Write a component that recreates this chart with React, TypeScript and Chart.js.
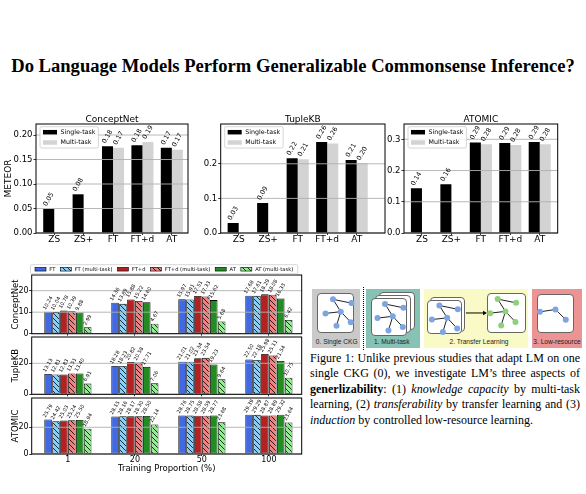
import React, { useEffect, useRef } from 'react';
import { Chart, registerables } from 'chart.js';

Chart.register(...registerables);

// ---------------- data ----------------
const TOP_CATEGORIES = ['ZS', 'ZS+', 'FT', 'FT+d', 'AT'];
const TOP_SERIES = ['Single-task', 'Multi-task'];
const CONCEPTNET_SINGLE = [0.049, 0.079, 0.177, 0.179, 0.174];
const CONCEPTNET_MULTI = [null, null, 0.174, 0.186, 0.17];
const TUPLEKB_SINGLE = [0.029, 0.087, 0.216, 0.263, 0.211];
const TUPLEKB_MULTI = [null, null, 0.213, 0.259, 0.202];
const ATOMIC_SINGLE = [0.143, 0.156, 0.29, 0.288, 0.291];
const ATOMIC_MULTI = [null, null, 0.284, 0.282, 0.284];

const PROPORTIONS = ['1', '20', '50', '100'];
const METHOD_LABELS = ['FT', 'FT (multi-task)', 'FT+d', 'FT+d (multi-task)', 'AT', 'AT (multi-task)'];

const CN_FT = [10.24, 14.36, 15.97, 17.68];
const CN_FT_MT = [10.04, 13.89, 15.91, 17.61];
const CN_FTD = [10.78, 15.88, 17.51, 18.29];
const CN_FTD_MT = [10.39, 15.22, 17.33, 18.08];
const CN_AT = [9.88, 14.6, 15.62, 16.33];
const CN_AT_MT = [2.99, 4.67, 5.68, 6.42];

const TK_FT = [13.13, 18.28, 21.01, 22.5];
const TK_FT_MT = [12.81, 18.23, 21.02, 22.18];
const TK_FTD = [12.83, 20.82, 23.34, 25.98];
const TK_FTD_MT = [13.51, 20.58, 23.54, 25.11];
const TK_AT = [13.4, 17.71, 19.23, 21.54];
const TK_AT_MT = [6.91, 7.06, 9.64, 10.75];

const AT_FT = [25.79, 28.15, 28.76, 29.39];
const AT_FT_MT = [24.42, 28.16, 28.75, 29.29];
const AT_FTD = [25.03, 28.17, 28.58, 28.87];
const AT_FTD_MT = [25.24, 28.3, 28.59, 28.89];
const AT_AT = [25.5, 28.5, 28.77, 29.32];
const AT_AT_MT = [18.94, 22.14, 23.68, 23.64];

// diagram (graph glyphs)
const PANEL_LABELS = ['0. Single CKG', '1. Multi-task', '2. Transfer Learning', '3. Low-resource'];
const GRAPH_NODES = [[12.7, 4], [31.7, 8.3], [5, 20], [20.7, 18], [31, 30], [16.3, 34]];
const GRAPH_EDGES = [[0, 1], [0, 3], [2, 3], [3, 4], [3, 5]];
const SPARSE_NODES = [[5.7, 17.7], [21.7, 15], [32.3, 26.7]];
const SPARSE_EDGES = [[0, 1], [1, 2]];
const BLUE_GRAPH_CARDS = [[317, 293], [370.5, 298.3], [426.5, 300]];
const GREEN_GRAPH_CARDS = [[486.5, 292.7]];
const SPARSE_GRAPH_CARDS = [[537, 293.5]];
const ARROW = [[466.5, 312.5], [485.5, 312.5]];

// ---------------- styles / layout ----------------
const FONT = 'DejaVu Sans';
const TOP_CANVAS_TOP = 104;
const TOP_H = 144;
const TOP_PLOT_T = 20;
const TOP_PLOT_B = 129;
const TOP_PANELS = [
  { title: 'ConceptNet', ylabel: 'METEOR', single: CONCEPTNET_SINGLE, multi: CONCEPTNET_MULTI, yMax: 0.2225, yStep: 0.05, dec: 2, left: 0, width: 196, plotL: 36, plotR: 188, padL: 0.62, padR: 0.55 },
  { title: 'TupleKB', ylabel: '', single: TUPLEKB_SINGLE, multi: TUPLEKB_MULTI, yMax: 0.315, yStep: 0.1, dec: 1, left: 196, width: 196, plotL: 24.7, plotR: 189, padL: 0.61, padR: 0.96 },
  { title: 'ATOMIC', ylabel: '', single: ATOMIC_SINGLE, multi: ATOMIC_MULTI, yMax: 0.349, yStep: 0.1, dec: 1, left: 380, width: 206, plotL: 24, plotR: 177.7, padL: 0.61, padR: 0.61 },
];
const TOP_COLORS = ['#000000', '#d3d3d3'];

const METHOD_COLORS = ['#4169e1', '#87cefa', '#b22222', '#f08080', '#228b22', '#90ee90'];
const METHOD_HATCHED = [false, true, false, true, false, true];
const ROW_PANELS = [
  { ylabel: 'ConceptNet', series: [CN_FT, CN_FT_MT, CN_FTD, CN_FTD_MT, CN_AT, CN_AT_MT], yMax: 27.3, yStep: 10, top: 255, height: 82, plotT: 20, plotB: 78.7, legend: true, xlabels: false },
  { ylabel: 'TupleKB', series: [TK_FT, TK_FT_MT, TK_FTD, TK_FTD_MT, TK_AT, TK_AT_MT], yMax: 37, yStep: 20, top: 318, height: 80, plotT: 19, plotB: 76.3, legend: false, xlabels: false },
  { ylabel: 'ATOMIC', series: [AT_FT, AT_FT_MT, AT_FTD, AT_FTD_MT, AT_AT, AT_AT_MT], yMax: 41.9, yStep: 20, top: 380, height: 100, plotT: 18, plotB: 74, legend: false, xlabels: true },
];
const ROW_W = 310;
const ROW_PLOT_L = 31.7;
const ROW_PLOT_R = 301.7;

function hatchPattern(color: string) {
  const c = document.createElement('canvas');
  const s = 5;
  c.width = s;
  c.height = s;
  const g = c.getContext('2d')!;
  g.fillStyle = color;
  g.fillRect(0, 0, s, s);
  g.strokeStyle = '#000';
  g.lineWidth = 0.8;
  g.beginPath();
  g.moveTo(-1, -1); g.lineTo(s + 1, s + 1);
  g.moveTo(-1, s - 1); g.lineTo(1, s + 1);
  g.moveTo(s - 1, -1); g.lineTo(s + 1, 1);
  g.stroke();
  return g.createPattern(c, 'repeat');
}

function filterSteps(step: number) {
  return (s: any) => {
    s.ticks = s.ticks.filter((t: any) => Math.abs(t.value / step - Math.round(t.value / step)) < 1e-6);
  };
}

function drawRotatedLabels(ctx: any, chart: any, fontSize: number, pad: number, dec: number) {
  const th = (60 * Math.PI) / 180;
  ctx.font = `${fontSize}px "${FONT}"`;
  ctx.fillStyle = '#000';
  chart.data.datasets.forEach((ds: any, di: number) => {
    const meta = chart.getDatasetMeta(di);
    meta.data.forEach((el: any, i: number) => {
      const raw = ds.data[i];
      const v = raw && typeof raw === 'object' ? raw.y : raw;
      if (v == null) return;
      const txt = Number(v).toFixed(dec);
      const w = ctx.measureText(txt).width;
      const h = fontSize * 1.1;
      const bh = w * Math.sin(th) + h * Math.cos(th);
      ctx.save();
      ctx.translate(el.x, el.y - pad - bh / 2);
      ctx.rotate(-th);
      ctx.textAlign = 'center';
      ctx.textBaseline = 'middle';
      ctx.fillText(txt, 0, 0);
      ctx.restore();
    });
  });
}

function roundRect(ctx: any, x: number, y: number, w: number, h: number, r: number) {
  ctx.beginPath();
  ctx.moveTo(x + r, y);
  ctx.lineTo(x + w - r, y);
  ctx.quadraticCurveTo(x + w, y, x + w, y + r);
  ctx.lineTo(x + w, y + h - r);
  ctx.quadraticCurveTo(x + w, y + h, x + w - r, y + h);
  ctx.lineTo(x + r, y + h);
  ctx.quadraticCurveTo(x, y + h, x, y + h - r);
  ctx.lineTo(x, y + r);
  ctx.quadraticCurveTo(x, y, x + r, y);
  ctx.closePath();
}

function gridAndFrame(ctx: any, chart: any) {
  const a = chart.chartArea;
  const ys = chart.scales.y;
  ctx.strokeStyle = '#b0b0b0';
  ctx.lineWidth = 0.9;
  ys.ticks.forEach((t: any) => {
    const y = ys.getPixelForValue(t.value);
    ctx.beginPath();
    ctx.moveTo(a.left, y);
    ctx.lineTo(a.right, y);
    ctx.stroke();
  });
  ctx.strokeStyle = '#000';
  ctx.lineWidth = 1;
  ctx.strokeRect(a.left, a.top, a.right - a.left, a.bottom - a.top);
}

function makeTopConfig(p: any) {
  const overlay = {
    id: 'topOverlay',
    afterDatasetsDraw(chart: any) {
      const ctx = chart.ctx;
      const a = chart.chartArea;
      ctx.save();
      gridAndFrame(ctx, chart);
      drawRotatedLabels(ctx, chart, 6.5, 1.5, 2);
      // title
      ctx.font = `9px "${FONT}"`;
      ctx.fillStyle = '#000';
      ctx.textAlign = 'center';
      ctx.textBaseline = 'alphabetic';
      ctx.fillText(p.title, (a.left + a.right) / 2, a.top - 2.5);
      if (p.ylabel) {
        ctx.save();
        ctx.translate(8.5, (a.top + a.bottom) / 2);
        ctx.rotate(-Math.PI / 2);
        ctx.textBaseline = 'middle';
        ctx.fillText(p.ylabel, 0, 0);
        ctx.restore();
      }
      // legend
      const fs = 6.3;
      ctx.font = `${fs}px "${FONT}"`;
      const tw = Math.max(...TOP_SERIES.map((s) => ctx.measureText(s).width));
      const x0 = a.left + 4;
      const y0 = a.top + 2.7;
      const hw = 14, hh = 4.5, gap = 3.5, pad = 3, rowH = 10.3;
      const w = pad + hw + gap + tw + pad;
      const h = 5.5 * 2 + rowH;
      roundRect(ctx, x0, y0, w, h, 1.5);
      ctx.fillStyle = 'rgba(255,255,255,0.85)';
      ctx.fill();
      ctx.strokeStyle = '#cccccc';
      ctx.lineWidth = 0.8;
      ctx.stroke();
      TOP_SERIES.forEach((s, i) => {
        const cy = y0 + 5.5 + i * rowH;
        ctx.fillStyle = TOP_COLORS[i];
        ctx.fillRect(x0 + pad, cy - hh / 2, hw, hh);
        ctx.fillStyle = '#000';
        ctx.textAlign = 'left';
        ctx.textBaseline = 'middle';
        ctx.fillText(s, x0 + pad + hw + gap, cy);
      });
      ctx.restore();
    },
  };
  return {
    type: 'bar',
    data: {
      datasets: [
        { label: TOP_SERIES[0], data: p.single.map((y: any, i: number) => ({ x: i, y })), backgroundColor: TOP_COLORS[0], borderWidth: 0 },
        { label: TOP_SERIES[1], data: p.multi.map((y: any, i: number) => ({ x: i, y })), backgroundColor: TOP_COLORS[1], borderWidth: 0 },
      ],
    },
    options: {
      responsive: false,
      animation: false,
      events: [],
      layout: { padding: { left: 0, top: TOP_PLOT_T, right: p.width - p.plotR, bottom: 0 } },
      datasets: { bar: { categoryPercentage: 0.75, barPercentage: 1 } },
      plugins: { legend: { display: false }, tooltip: { enabled: false } },
      scales: {
        x: {
          type: 'linear',
          min: -p.padL,
          max: TOP_CATEGORIES.length - 1 + p.padR,
          offset: false,
          border: { display: false },
          grid: { offset: false, drawOnChartArea: false, drawTicks: true, tickLength: 2, tickColor: '#000', tickWidth: 0.8 },
          ticks: {
            autoSkip: false, maxRotation: 0, minRotation: 0, padding: -0.8, color: '#000',
            font: { family: FONT, size: 9 },
            callback: (v: any) => TOP_CATEGORIES[v] ?? '',
          },
          afterBuildTicks: (s: any) => { s.ticks = TOP_CATEGORIES.map((_, i) => ({ value: i })); },
          afterFit: (s: any) => { s.height = TOP_H - TOP_PLOT_B; s.paddingLeft = 0; s.paddingRight = 0; },
        },
        y: {
          min: 0,
          max: p.yMax,
          border: { display: false },
          grid: { drawOnChartArea: false, drawTicks: true, tickLength: 2.5, tickColor: '#000', tickWidth: 0.8 },
          ticks: { stepSize: p.yStep, padding: 1, color: '#000', font: { family: FONT, size: 8.5 }, callback: (v: any) => Number(v).toFixed(p.dec) },
          afterBuildTicks: filterSteps(p.yStep),
          afterFit: (s: any) => { s.width = p.plotL; s.paddingTop = 0; s.paddingBottom = 0; },
        },
      },
    },
    plugins: [overlay],
  };
}

function makeRowConfig(p: any) {
  const fills = METHOD_COLORS.map((c, i) => (METHOD_HATCHED[i] ? hatchPattern(c) : c));
  const overlay = {
    id: 'rowOverlay',
    afterDatasetsDraw(chart: any) {
      const ctx = chart.ctx;
      const a = chart.chartArea;
      ctx.save();
      gridAndFrame(ctx, chart);
      drawRotatedLabels(ctx, chart, 5, 1, 2);
      ctx.fillStyle = '#000';
      ctx.font = `8.5px "${FONT}"`;
      ctx.save();
      ctx.translate(16, (a.top + a.bottom) / 2);
      ctx.rotate(-Math.PI / 2);
      ctx.textAlign = 'center';
      ctx.textBaseline = 'middle';
      ctx.fillText(p.ylabel, 0, 0);
      ctx.restore();
      if (p.xlabels) {
        ctx.textAlign = 'center';
        ctx.textBaseline = 'middle';
        ctx.fillText('Training Proportion (%)', (a.left + a.right) / 2, a.bottom + 14.3);
      }
      if (p.legend) {
        const fs = 5.2;
        ctx.font = `${fs}px "${FONT}"`;
        const x0 = 30.5, y0 = a.top - 10.3, hgt = 9;
        const pw = 11, ph = 3.7, gap = 3.3, igap = 5;
        let x = x0 + 4.5;
        const items: any[] = [];
        METHOD_LABELS.forEach((l, i) => {
          const tw = ctx.measureText(l).width;
          items.push({ x, l, i });
          x += pw + gap + tw + igap;
        });
        const x1 = x - igap + 4.5;
        roundRect(ctx, x0, y0, x1 - x0, hgt, 1.2);
        ctx.fillStyle = 'rgba(255,255,255,0.85)';
        ctx.fill();
        ctx.strokeStyle = '#cccccc';
        ctx.lineWidth = 0.8;
        ctx.stroke();
        const cy = y0 + hgt / 2;
        items.forEach((it) => {
          ctx.fillStyle = fills[it.i];
          ctx.fillRect(it.x, cy - ph / 2, pw, ph);
          ctx.strokeStyle = '#000';
          ctx.lineWidth = 0.6;
          ctx.strokeRect(it.x, cy - ph / 2, pw, ph);
          ctx.fillStyle = '#000';
          ctx.textAlign = 'left';
          ctx.textBaseline = 'middle';
          ctx.fillText(it.l, it.x + pw + gap, cy);
        });
      }
      ctx.restore();
    },
  };
  return {
    type: 'bar',
    data: {
      datasets: p.series.map((vals: number[], k: number) => ({
        label: METHOD_LABELS[k],
        data: vals.map((y, i) => ({ x: i, y })),
        backgroundColor: fills[k],
        borderColor: '#000',
        borderWidth: 0.8,
        borderSkipped: false,
      })),
    },
    options: {
      responsive: false,
      animation: false,
      events: [],
      layout: { padding: { left: 0, top: p.plotT, right: ROW_W - ROW_PLOT_R, bottom: 0 } },
      datasets: { bar: { categoryPercentage: 0.71, barPercentage: 0.95 } },
      plugins: { legend: { display: false }, tooltip: { enabled: false } },
      scales: {
        x: {
          type: 'linear',
          min: -0.54,
          max: PROPORTIONS.length - 1 + 0.49,
          offset: false,
          border: { display: false },
          grid: { offset: false, drawOnChartArea: false, drawTicks: true, tickLength: 2, tickColor: '#000', tickWidth: 0.8 },
          ticks: {
            display: p.xlabels, autoSkip: false, maxRotation: 0, minRotation: 0, padding: -1, color: '#000',
            font: { family: FONT, size: 8 },
            callback: (v: any) => PROPORTIONS[v] ?? '',
          },
          afterBuildTicks: (s: any) => { s.ticks = PROPORTIONS.map((_, i) => ({ value: i })); },
          afterFit: (s: any) => { s.height = p.height - p.plotB; s.paddingLeft = 0; s.paddingRight = 0; },
        },
        y: {
          min: 0,
          max: p.yMax,
          border: { display: false },
          grid: { drawOnChartArea: false, drawTicks: true, tickLength: 2.5, tickColor: '#000', tickWidth: 0.8 },
          ticks: { stepSize: p.yStep, padding: 0.5, color: '#000', font: { family: FONT, size: 8 }, callback: (v: any) => String(Math.round(v)) },
          afterBuildTicks: filterSteps(p.yStep),
          afterFit: (s: any) => { s.width = ROW_PLOT_L; s.paddingTop = 0; s.paddingBottom = 0; },
        },
      },
    },
    plugins: [overlay],
  };
}

function makeDiagramConfig() {
  const place = (o: number[], n: number[]) => ({ x: o[0] + n[0], y: o[1] + n[1] });
  const datasets: any[] = [];
  const nodes = (cards: number[][], tpl: number[][], color: string) => ({
    data: cards.flatMap((o) => tpl.map((n) => place(o, n))),
    pointRadius: 3,
    pointBackgroundColor: color,
    pointBorderWidth: 0,
    showLine: false,
  });
  datasets.push(nodes(BLUE_GRAPH_CARDS, GRAPH_NODES, '#7da5e1'));
  datasets.push(nodes(GREEN_GRAPH_CARDS, GRAPH_NODES, '#8dd27a'));
  datasets.push(nodes(SPARSE_GRAPH_CARDS, SPARSE_NODES, '#7da5e1'));
  datasets.push({
    data: [{ x: ARROW[1][0], y: ARROW[1][1] }],
    pointStyle: 'triangle', pointRotation: 90, pointRadius: 2.6,
    pointBackgroundColor: '#000', pointBorderWidth: 0, showLine: false,
  });
  const edge = (o: number[], tpl: number[][], e: number[]) => ({
    data: [place(o, tpl[e[0]]), place(o, tpl[e[1]])],
    showLine: true, pointRadius: 0, borderColor: '#222', borderWidth: 1,
  });
  [...BLUE_GRAPH_CARDS, ...GREEN_GRAPH_CARDS].forEach((o) => GRAPH_EDGES.forEach((e) => datasets.push(edge(o, GRAPH_NODES, e))));
  SPARSE_GRAPH_CARDS.forEach((o) => SPARSE_EDGES.forEach((e) => datasets.push(edge(o, SPARSE_NODES, e))));
  datasets.push({
    data: ARROW.map((p) => ({ x: p[0], y: p[1] })),
    showLine: true, pointRadius: 0, borderColor: '#000', borderWidth: 1,
  });
  return {
    type: 'scatter',
    data: { datasets },
    options: {
      responsive: false,
      animation: false,
      events: [],
      layout: { padding: 0 },
      plugins: { legend: { display: false }, tooltip: { enabled: false } },
      scales: {
        x: { type: 'linear', min: 305, max: 586, display: false },
        y: { type: 'linear', min: 283, max: 350, reverse: true, display: false },
      },
    },
  };
}

function ChartCanvas({ left, top, width, height, make, z }: any) {
  const ref = useRef<HTMLCanvasElement>(null);
  useEffect(() => {
    const chart = new Chart(ref.current as any, make());
    return () => chart.destroy();
  }, []);
  return (
    <canvas
      ref={ref}
      width={width}
      height={height}
      style={{ position: 'absolute', left, top, width, height, zIndex: z ?? 1 }}
    />
  );
}

const card = (x: number, y: number, w: number, h: number) => ({
  position: 'absolute' as const, left: x, top: y, width: w, height: h, boxSizing: 'border-box' as const,
  background: '#fff', border: '1px solid #666', borderRadius: 4,
});

export default function App() {
  const lineStyle = { textAlign: 'justify' as const, textAlignLast: 'justify' as const, whiteSpace: 'nowrap' as const };
  return (
    <div style={{ position: 'absolute', left: 0, top: 0, width: 586, height: 494, background: '#fff', overflow: 'hidden' }}>
      <div style={{ position: 'absolute', left: 0, top: 57.4, width: 586, textAlign: 'center', font: 'bold 18.6px "Liberation Serif"', lineHeight: '18.6px', whiteSpace: 'nowrap', color: '#000' }}>
        Do Language Models Perform Generalizable Commonsense Inference?
      </div>

      {TOP_PANELS.map((p, i) => (
        <ChartCanvas key={'t' + i} left={p.left} top={TOP_CANVAS_TOP} width={p.width} height={TOP_H} make={() => makeTopConfig(p)} z={1 + i} />
      ))}

      {ROW_PANELS.map((p, i) => (
        <ChartCanvas key={'r' + i} left={0} top={p.top} width={ROW_W} height={p.height} make={() => makeRowConfig(p)} z={1 + i} />
      ))}

      {/* diagram panels */}
      <div style={{ position: 'absolute', left: 312, top: 289, width: 48, height: 59, background: '#c9c9c9' }} />
      <div style={{ position: 'absolute', left: 363, top: 287, height: 63, borderLeft: '1.5px dotted #000' }} />
      <div style={{ position: 'absolute', left: 366, top: 289, width: 54, height: 59, background: '#86c3b4' }} />
      <div style={{ position: 'absolute', left: 424, top: 289, width: 104, height: 59, background: '#fafac6' }} />
      <div style={{ position: 'absolute', left: 532, top: 289, width: 50, height: 59, background: '#ec9494' }} />
      <div style={card(317, 293, 37, 40)} />
      <div style={card(378.7, 291.7, 36, 38)} />
      <div style={card(374.5, 295, 36, 38)} />
      <div style={card(370.5, 298.3, 36, 38)} />
      <div style={card(430, 296.5, 35, 35)} />
      <div style={card(426.5, 300, 35, 34)} />
      <div style={card(486.5, 292.7, 39, 40)} />
      <div style={card(537, 293.5, 37, 39)} />
      {PANEL_LABELS.map((l, i) => (
        <div key={l} style={{ position: 'absolute', left: [336.7, 391.7, 479, 557][i] - 40, width: 80, top: 338, textAlign: 'center', font: '6.6px "Liberation Sans"', lineHeight: '8px', color: '#222', whiteSpace: 'nowrap' }}>
          {l}
        </div>
      ))}
      <ChartCanvas left={305} top={283} width={281} height={67} make={makeDiagramConfig} z={5} />

      <div style={{ position: 'absolute', left: 310, top: 350.5, width: 270, font: '12px "Liberation Serif"', lineHeight: '15.6px', color: '#000' }}>
        <div style={lineStyle}>Figure 1: Unlike previous studies that adapt LM on one</div>
        <div style={lineStyle}>single CKG (0), we investigate LM’s three aspects of</div>
        <div style={lineStyle}><b>generlizability</b>: (1) <i>knowledge capacity</i> by multi-task</div>
        <div style={lineStyle}>learning, (2) <i>transferability</i> by transfer learning and (3)</div>
        <div style={{ whiteSpace: 'nowrap' }}><i>induction</i> by controlled low-resource learning.</div>
      </div>
    </div>
  );
}
